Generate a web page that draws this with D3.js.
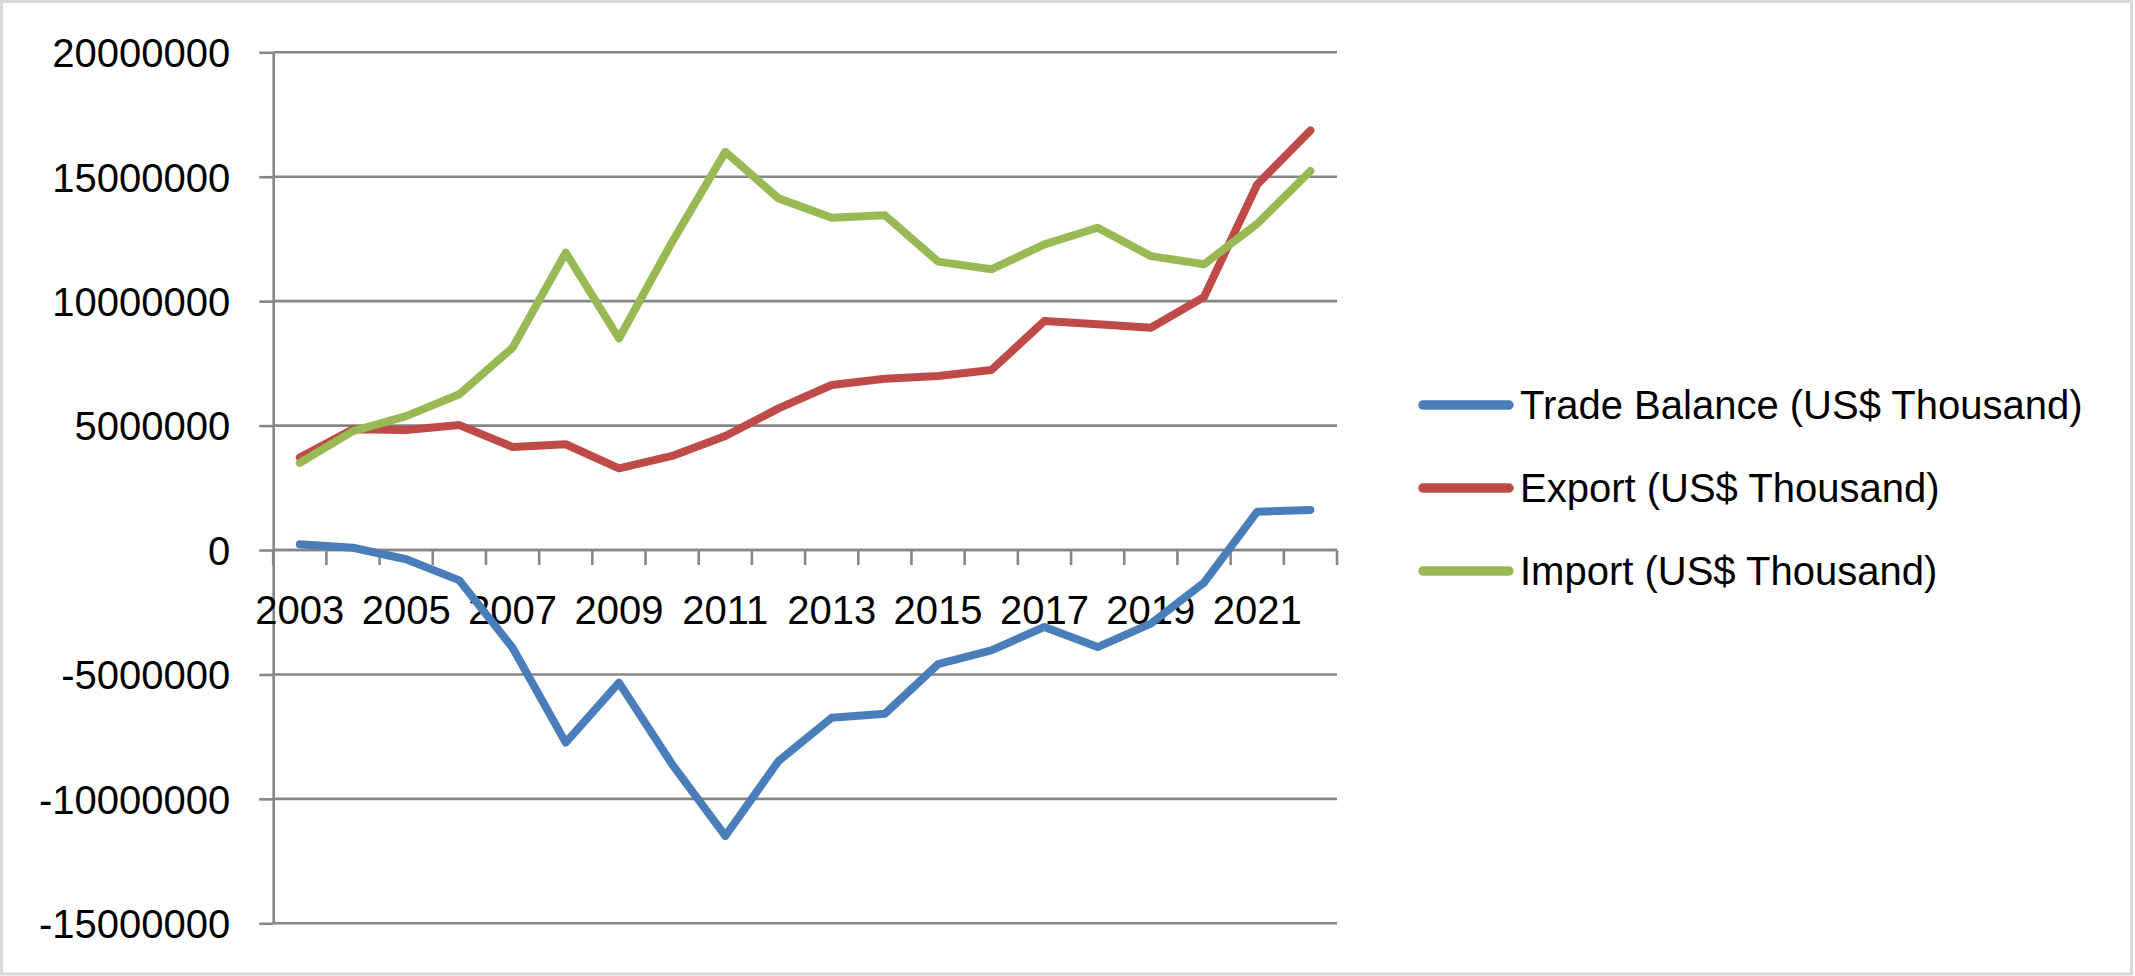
<!DOCTYPE html>
<html>
<head>
<meta charset="utf-8">
<script src="https://cdn.jsdelivr.net/npm/d3@7"></script>
<style>
  html, body { margin: 0; padding: 0; background: #ffffff; }
  svg { display: block; }
  text { font-family: "Liberation Sans", Arial, sans-serif; fill: #000; }
</style>
</head>
<body>
<svg id="chart" width="2135" height="976"></svg>
<script>
const years = ["2003","2004","2005","2006","2007","2008","2009","2010","2011","2012",
               "2013","2014","2015","2016","2017","2018","2019","2020","2021","2022"];
const xTickLabels = ["2003","2005","2007","2009","2011","2013","2015","2017","2019","2021"];
const yTicks = [-15000000, -10000000, -5000000, 0, 5000000, 10000000, 15000000, 20000000];

const tradeBalance = [230000, 90000, -370000, -1220000, -3930000, -7740000, -5330000, -8610000, -11490000, -8480000,
                      -6740000, -6580000, -4590000, -4030000, -3090000, -3900000, -2960000, -1310000, 1540000, 1610000];
const exportVals   = [3720000, 4850000, 4820000, 5020000, 4140000, 4250000, 3280000, 3780000, 4580000, 5690000,
                      6630000, 6880000, 6990000, 7230000, 9200000, 9070000, 8930000, 10170000, 14690000, 16860000];
const importVals   = [3500000, 4780000, 5380000, 6260000, 8130000, 11950000, 8500000, 12380000, 16000000, 14130000,
                      13350000, 13450000, 11590000, 11280000, 12280000, 12950000, 11810000, 11480000, 13110000, 15230000];

const seriesNames  = ["Trade Balance (US$ Thousand)", "Export (US$ Thousand)", "Import (US$ Thousand)"];
const seriesColors = ["#4A7EBB", "#BE4B48", "#98B954"];
const seriesData   = [tradeBalance, exportVals, importVals];

const svg = d3.select("#chart");
const W = 2135, H = 976;

// chart border
svg.append("rect")
  .attr("x", 1.5).attr("y", 1.5)
  .attr("width", W - 5).attr("height", H - 3.5)
  .attr("fill", "#fff").attr("stroke", "#d9d9d9").attr("stroke-width", 3);

const plotL = 273.2, plotR = 1337, plotT = 52.3, plotB = 923.3;

const x = d3.scaleBand().domain(years).range([plotL, plotR]).padding(0);
const y = d3.scaleLinear().domain([-15000000, 20000000]).range([plotB, plotT]);

const gridColor = "#868686";

// gridlines
svg.append("g").selectAll("line").data(yTicks).join("line")
  .attr("x1", plotL).attr("x2", plotR)
  .attr("y1", d => y(d)).attr("y2", d => y(d))
  .attr("stroke", gridColor).attr("stroke-width", 2.6);

// y axis
const yAxis = d3.axisLeft(y).tickValues(yTicks).tickSize(14).tickSizeOuter(0).tickPadding(29)
  .tickFormat(d => String(d));
const gy = svg.append("g").attr("transform", `translate(${plotL},0)`).call(yAxis);
gy.select(".domain").attr("stroke", gridColor).attr("stroke-width", 2.6);
gy.selectAll(".tick line").attr("stroke", gridColor).attr("stroke-width", 2.6);
gy.selectAll(".tick text").attr("font-size", 40).attr("font-family", "Liberation Sans, Arial, sans-serif")
  .attr("fill", "#000").attr("dy", "0.36em");

// x axis at y=0, ticks on category boundaries
const y0 = y(0);
const bounds = years.map(d => x(d)).concat([plotR]);
svg.append("g").selectAll("line").data(bounds).join("line")
  .attr("x1", d => d).attr("x2", d => d)
  .attr("y1", y0).attr("y2", y0 + 15)
  .attr("stroke", gridColor).attr("stroke-width", 2.6);
svg.append("line")
  .attr("x1", plotL).attr("x2", plotR).attr("y1", y0).attr("y2", y0)
  .attr("stroke", gridColor).attr("stroke-width", 2.6);
svg.append("g").selectAll("text").data(xTickLabels).join("text")
  .attr("x", d => x(d) + x.bandwidth() / 2)
  .attr("y", y0 + 74)
  .attr("text-anchor", "middle")
  .attr("font-size", 40)
  .text(d => d);

// lines
const line = d3.line()
  .x((d, i) => x(years[i]) + x.bandwidth() / 2)
  .y(d => y(d));

seriesData.forEach((vals, k) => {
  svg.append("path")
    .datum(vals)
    .attr("d", line)
    .attr("fill", "none")
    .attr("stroke", seriesColors[k])
    .attr("stroke-width", 8)
    .attr("stroke-linejoin", "round")
    .attr("stroke-linecap", "round");
});

// legend
const legY = [405, 488, 571];
const lg = svg.append("g");
seriesNames.forEach((name, k) => {
  lg.append("line")
    .attr("x1", 1423).attr("x2", 1509)
    .attr("y1", legY[k]).attr("y2", legY[k])
    .attr("stroke", seriesColors[k]).attr("stroke-width", 9.5)
    .attr("stroke-linecap", "round");
  lg.append("text")
    .attr("x", 1520).attr("y", legY[k])
    .attr("dy", "0.36em")
    .attr("font-size", 40)
    .text(name);
});
</script>
</body>
</html>
